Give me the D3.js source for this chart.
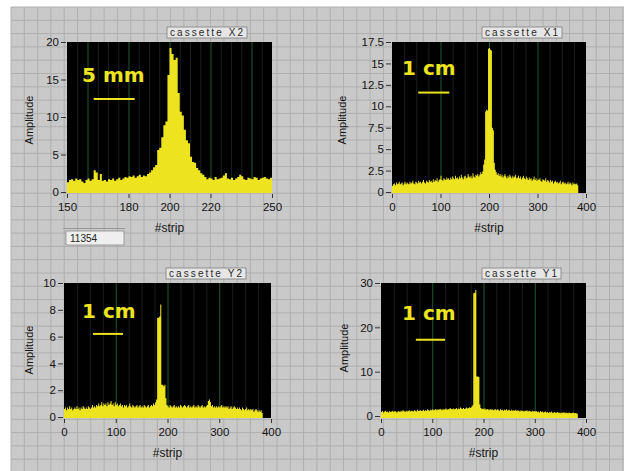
<!DOCTYPE html>
<html>
<head>
<meta charset="utf-8">
<script src="https://cdn.jsdelivr.net/npm/d3@7"></script>
<style>
  body{margin:0;background:#fff;}
  svg{display:block;}
</style>
</head>
<body>
<div id="panel-container"></div>
<script>
// cassette X2: one value per strip, strips 150..250
const ampX2 = [
  1.3,1.6,1.7,1.5,1.8,1.6,1.7,1.4,1.2,1.6,
  1.8,1.5,1.7,2.9,2.6,1.6,2.4,1.5,1.6,1.4,
  1.7,1.6,1.8,1.5,1.7,1.9,1.6,1.8,2.0,1.9,
  2.1,2.0,2.2,1.9,2.1,2.3,2.0,2.2,2.1,2.4,
  2.6,2.9,3.3,3.6,5.6,5.9,7.3,8.9,9.4,15.6,
  19.2,18.4,17.6,17.9,13.2,10.7,10.2,8.3,6.9,6.5,
  4.7,4.0,3.9,3.2,2.9,2.5,2.3,2.0,1.7,1.9,
  1.8,1.6,2.0,1.7,1.8,1.9,2.2,2.5,1.8,1.7,
  1.9,1.6,1.8,2.0,2.3,2.1,1.7,1.6,1.9,1.8,
  1.7,2.0,1.9,1.6,1.8,1.9,2.0,1.8,1.7,1.9,
  1.9
];
// cassettes X1, Y2, Y1: one value per 2 strips, strips 0..383
const ampX1 = [
  0.7,0.9,1.0,0.8,1.1,0.9,1.0,1.2,0.9,1.0,
  1.1,0.8,1.0,1.2,0.9,1.1,1.0,0.9,1.2,1.0,
  1.1,1.3,1.0,0.9,1.2,1.1,1.0,1.3,1.1,1.2,
  1.0,1.2,1.4,1.1,1.0,1.3,1.2,1.1,1.4,1.2,
  1.3,1.1,1.5,1.2,1.4,1.3,1.6,1.2,1.4,1.5,
  1.9,1.4,1.3,1.6,1.5,1.4,1.7,1.5,1.6,1.4,
  1.7,1.5,1.8,1.6,1.5,1.9,1.6,1.7,1.5,1.8,
  1.6,2.0,1.7,1.5,1.8,1.9,1.6,1.7,2.1,1.8,
  1.7,1.9,1.6,2.2,1.8,1.7,2.0,1.9,2.1,1.8,
  2.0,2.3,2.1,2.4,3.2,3.8,9.4,9.6,9.5,16.7,
  16.8,16.6,16.5,7.5,7.2,3.4,2.6,2.3,2.0,2.2,
  1.9,2.1,1.8,2.0,1.7,1.9,2.1,1.8,1.6,1.9,
  1.7,2.0,1.8,1.6,1.9,1.7,1.8,2.0,1.6,1.7,
  1.9,1.6,1.8,1.5,1.7,1.9,1.6,1.5,1.8,1.6,
  1.4,1.7,1.5,1.6,1.3,1.5,1.8,1.4,1.6,1.3,
  1.5,1.4,1.6,1.3,1.2,1.5,1.4,1.3,1.6,1.2,
  1.4,1.3,1.1,1.4,1.2,1.3,1.0,1.2,1.3,1.1,
  1.2,1.0,1.1,1.3,0.9,1.1,1.2,1.0,1.1,0.9,
  1.0,1.2,0.9,1.1,1.0,0.8,1.1,0.9,1.0,0.9,
  1.0,0.8
];
const ampY2 = [
  0.6,0.7,0.5,0.7,0.6,0.8,0.6,0.7,0.5,0.6,
  0.7,0.6,0.8,0.6,0.7,0.5,0.7,0.6,0.8,0.7,
  0.6,0.7,0.6,0.8,0.7,0.6,0.7,0.9,0.7,0.8,
  0.7,0.9,0.8,1.0,0.8,0.9,1.1,0.8,1.0,0.9,
  1.0,0.8,1.1,0.9,1.0,1.2,0.9,1.0,0.8,1.1,
  0.9,1.0,0.8,0.9,1.0,0.8,0.9,0.7,0.9,0.8,
  0.9,0.7,0.8,1.0,0.8,0.7,0.9,0.8,0.7,0.8,
  0.9,0.7,0.8,0.9,0.7,0.8,0.7,0.9,0.8,0.7,
  0.8,0.9,0.7,0.8,0.9,0.8,1.0,0.9,1.1,1.3,
  7.4,7.4,7.5,8.4,2.4,2.4,2.3,2.4,1.4,0.9,
  0.8,0.7,0.9,0.8,0.7,0.8,0.9,0.7,0.8,0.7,
  0.8,0.7,0.9,0.8,0.7,0.8,0.9,0.8,0.7,0.8,
  0.9,0.7,0.8,0.7,0.8,0.9,0.7,0.8,0.7,0.9,
  0.8,0.7,0.8,0.9,0.7,0.8,0.7,0.8,0.9,1.2,
  1.3,1.1,0.8,0.9,0.7,0.8,0.7,0.8,0.7,0.8,
  0.7,0.8,0.9,0.7,0.8,0.7,0.8,0.7,0.8,0.6,
  0.7,0.8,0.6,0.7,0.8,0.7,0.6,0.7,0.6,0.7,
  0.6,0.5,0.7,0.6,0.5,0.6,0.7,0.5,0.6,0.5,
  0.6,0.5,0.6,0.4,0.5,0.6,0.5,0.4,0.5,0.4,
  0.5,0.3
];
const ampY1 = [
  0.9,1.1,0.8,1.0,1.2,0.9,1.0,0.8,1.1,0.9,
  1.0,1.2,0.9,1.1,1.0,0.8,1.0,1.1,0.9,1.2,
  1.0,1.3,1.1,0.9,1.2,1.0,1.1,1.3,1.0,1.2,
  1.1,1.0,1.3,1.2,1.0,1.4,1.1,1.2,1.3,1.1,
  1.2,1.4,1.1,1.3,1.2,1.5,1.3,1.2,1.4,1.3,
  1.5,1.3,1.4,1.6,1.3,1.5,1.4,1.6,1.5,1.3,
  1.6,1.4,1.5,1.7,1.4,1.6,1.5,1.8,1.6,1.5,
  1.7,1.5,1.6,1.8,1.5,1.7,1.6,1.9,1.7,1.6,
  1.8,1.6,1.7,1.9,1.7,1.8,2.0,1.8,2.1,2.4,
  27.7,27.8,28.4,8.9,8.9,8.8,2.6,1.8,1.6,1.7,
  1.5,1.7,1.4,1.6,1.5,1.3,1.6,1.4,1.5,1.3,
  1.4,1.6,1.3,1.5,1.4,1.2,1.5,1.3,1.4,1.2,
  1.4,1.3,1.5,1.2,1.4,1.3,1.1,1.4,1.2,1.3,
  1.2,1.4,1.1,1.3,1.2,1.0,1.3,1.1,1.2,1.0,
  1.2,1.1,1.3,1.0,1.2,1.1,0.9,1.2,1.0,1.1,
  1.0,1.1,0.9,1.0,0.8,1.1,0.9,1.0,0.8,0.9,
  1.0,0.8,0.9,0.7,0.9,0.8,1.0,0.7,0.8,0.9,
  0.7,0.8,0.9,0.7,0.8,0.6,0.8,0.7,0.9,0.6,
  0.8,0.7,0.6,0.8,0.7,0.6,0.7,0.8,0.6,0.7,
  0.6,0.5
];

const xTicksX2 = [150, 180, 200, 220, 250];
const xGridX2 = [160, 180, 200, 220, 240];
const xTicksStrip = [0, 100, 200, 300, 400];
const xGridStrip = [100, 200, 300];
const yTicksX2 = [0, 5, 10, 15, 20];
const yTicksX1 = [0, 2.5, 5, 7.5, 10, 12.5, 15, 17.5];
const yTicksY2 = [0, 2, 4, 6, 8, 10];
const yTicksY1 = [0, 10, 20, 30];
const titles = ["cassette X2", "cassette X1", "cassette Y2", "cassette Y1"];
const scaleLabels = ["5 mm", "1 cm", "1 cm", "1 cm"];

const W = 624, H = 471;
const yellow = "#ede41f";

let svg = d3.select("#panel-container").append("svg")
  .attr("width", W).attr("height", H)
  .style("font-family", "'Liberation Sans', Arial, sans-serif");

// LabVIEW front panel background
svg.append("rect").attr("width", W).attr("height", H).attr("fill", "#fff");
let bg = svg.append("g");
bg.append("rect").attr("x", 11).attr("y", 7).attr("width", W - 11).attr("height", H - 7).attr("fill", "#c9c9c9");
bg.selectAll("line.v").data(d3.range(11, W, 13.3)).enter().append("line")
  .attr("x1", d => d).attr("x2", d => d).attr("y1", 7).attr("y2", H)
  .attr("stroke", "#afafaf").attr("stroke-width", 1);
bg.selectAll("line.h").data(d3.range(7, H, 13.3)).enter().append("line")
  .attr("y1", d => d).attr("y2", d => d).attr("x1", 11).attr("x2", W)
  .attr("stroke", "#afafaf").attr("stroke-width", 1);

// counter box
svg.append("line").attr("x1", 63).attr("x2", 125).attr("y1", 228.5).attr("y2", 228.5).attr("stroke", "#9a9a9a");
svg.append("rect").attr("x", 66).attr("y", 231).attr("width", 58).attr("height", 14)
  .attr("fill", "#efefef").attr("stroke", "#8c8c8c").attr("stroke-width", 0.8);
svg.append("text").attr("x", 70).attr("y", 242).attr("font-size", 10).attr("fill", "#222").text("11354");

const panels = [
  {id: 0, amp: ampX2, start: 150, step: 1, xDomain: [150, 250], yMax: 20, xTicks: xTicksX2, xGrid: xGridX2, minor: 5, yTicks: yTicksX2,
   left: 67, right: 272, top: 42, bottom: 193, zeroY: 192, tb: [167, 27, 80],
   bar: [163, 183, 12.4], lab: [15, 40], ylab: [-38, 120]},
  {id: 1, amp: ampX1, start: 0, step: 2, xDomain: [0, 400], yMax: 17.5, xTicks: xTicksStrip, xGrid: xGridStrip, minor: 25, yTicks: yTicksX1,
   left: 392, right: 586, top: 42, bottom: 193, zeroY: 192, tb: [482, 27, 80],
   bar: [54, 118, 11.6], lab: [10, 33], ylab: [-50, 120]},
  {id: 2, amp: ampY2, start: 0, step: 2, xDomain: [0, 400], yMax: 10, xTicks: xTicksStrip, xGrid: xGridStrip, minor: 25, yTicks: yTicksY2,
   left: 64, right: 271, top: 283, bottom: 418, zeroY: 417, tb: [166, 268, 80],
   bar: [56, 114, 6.2], lab: [18, 35], ylab: [-35, 350]},
  {id: 3, amp: ampY1, start: 0, step: 2, xDomain: [0, 400], yMax: 30, xTicks: xTicksStrip, xGrid: xGridStrip, minor: 25, yTicks: yTicksY1,
   left: 381, right: 586, top: 283, bottom: 418, zeroY: 416, tb: [482, 268, 79],
   bar: [68, 125, 17.2], lab: [21, 37], ylab: [-37, 348]}
];

let drawPanel = (p) => {
  let x = d3.scaleLinear().domain(p.xDomain).range([p.left, p.right]);
  let y = d3.scaleLinear().domain([0, p.yMax]).range([p.zeroY, p.top]);
  let g = svg.append("g").attr("class", "panel");

  // title box
  g.append("rect").attr("x", p.tb[0]).attr("y", p.tb[1]).attr("width", p.tb[2]).attr("height", 11)
    .attr("fill", "#e6e6e6").attr("stroke", "#7e7e7e").attr("stroke-width", 0.8);
  g.append("text").attr("x", p.tb[0] + 3).attr("y", p.tb[1] + 9)
    .attr("font-size", 10).attr("fill", "#2a2a2a")
    .attr("textLength", p.tb[2] - 7).attr("lengthAdjust", "spacing")
    .text(titles[p.id]);

  // plot area
  g.append("rect").attr("x", p.left).attr("y", p.top)
    .attr("width", p.right - p.left).attr("height", p.bottom - p.top).attr("fill", "#000");
  g.append("clipPath").attr("id", "clip" + p.id).append("rect")
    .attr("x", p.left).attr("y", p.top).attr("width", p.right - p.left).attr("height", p.bottom - p.top);
  let plot = g.append("g").attr("clip-path", `url(#clip${p.id})`);

  let minorVals = d3.range(p.xDomain[0] + p.minor, p.xDomain[1], p.minor).filter(v => !p.xGrid.includes(v));
  plot.selectAll("line.minor").data(minorVals).enter().append("line")
    .attr("x1", d => x(d) + 0.5).attr("x2", d => x(d) + 0.5).attr("y1", p.top).attr("y2", p.bottom)
    .attr("stroke", "#1c1c1c").attr("stroke-width", 1);
  plot.selectAll("line.major").data(p.xGrid).enter().append("line")
    .attr("x1", d => x(d) + 0.5).attr("x2", d => x(d) + 0.5).attr("y1", p.top).attr("y2", p.bottom)
    .attr("stroke", "#1d5a32").attr("stroke-width", 1);

  let pts = p.amp.map((v, i) => ({s: p.start + i * p.step, v: v}));
  pts.push({s: p.start + p.amp.length * p.step, v: p.amp[p.amp.length - 1]});
  let area = d3.area().curve(d3.curveStepAfter)
    .x(d => x(d.s)).y0(p.bottom).y1(d => y(d.v));
  plot.append("path").datum(pts).attr("d", area).attr("fill", yellow);

  // scale label and bar
  g.append("text").attr("x", p.left + p.lab[0]).attr("y", p.top + p.lab[1])
    .attr("font-family", "'DejaVu Sans', sans-serif").attr("font-weight", "bold")
    .attr("font-size", 20).attr("fill", yellow).text(scaleLabels[p.id]);
  g.append("line").attr("x1", x(p.bar[0])).attr("x2", x(p.bar[1]))
    .attr("y1", y(p.bar[2])).attr("y2", y(p.bar[2]))
    .attr("stroke", yellow).attr("stroke-width", 2);

  // axes
  let yAxis = d3.axisLeft(y).tickValues(p.yTicks).tickSize(5).tickPadding(2).tickFormat(d => String(d));
  let ya = g.append("g").attr("transform", `translate(${p.left - 1},0)`).call(yAxis);
  let xAxis = d3.axisBottom(x).tickValues(p.xTicks).tickSize(4).tickPadding(5).tickFormat(d => String(d));
  let xa = g.append("g").attr("transform", `translate(0,${p.bottom + 1})`).call(xAxis);
  [ya, xa].forEach(a => {
    a.select(".domain").remove();
    a.selectAll(".tick line").attr("stroke", "#333");
    a.selectAll(".tick text").attr("fill", "#151515").attr("font-size", 11.5)
      .attr("font-family", "'Liberation Sans', Arial, sans-serif");
  });

  g.append("text").attr("x", (p.left + p.right) / 2).attr("y", p.bottom + 39)
    .attr("text-anchor", "middle").attr("font-size", 12).attr("fill", "#151515").text("#strip");
  g.append("text").attr("transform", `translate(${p.left + p.ylab[0]},${p.ylab[1]}) rotate(-90)`)
    .attr("text-anchor", "middle").attr("dy", "0.35em").attr("font-size", 11).attr("fill", "#151515").text("Amplitude");
};

panels.forEach(drawPanel);
</script>
</body>
</html>
